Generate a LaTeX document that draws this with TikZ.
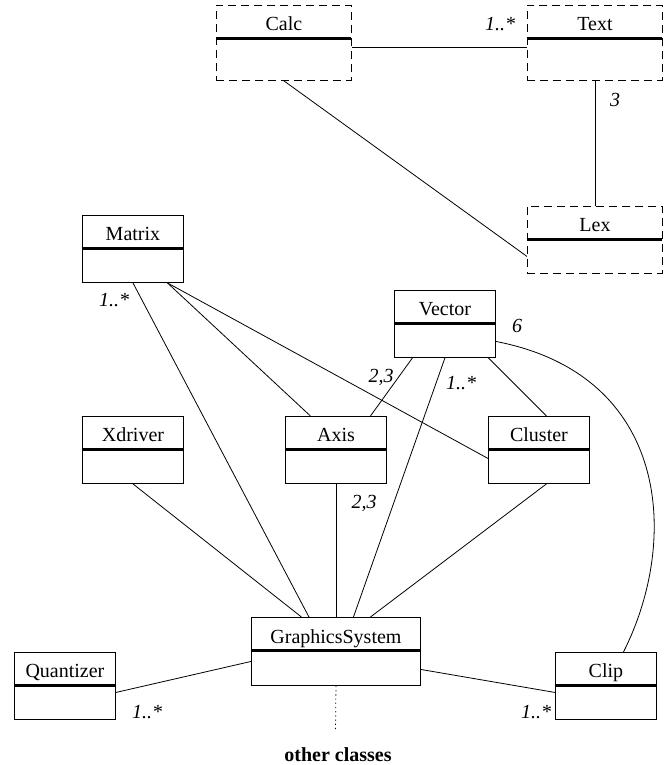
\documentclass[tikz,border=0pt]{standalone}
\usepackage{fontspec}
\setmainfont{Liberation Serif}

\begin{document}
\begin{tikzpicture}[x=1pt, y=-1pt, font=\fontsize{20}{24}\selectfont,
  cls/.style={draw, line width=0.9pt, inner sep=0pt, anchor=north west,
    minimum width=101pt, text height=25pt, text depth=42pt,
    path picture={\draw[solid, line width=2.4pt]
      ([yshift=-33pt]path picture bounding box.north west) --
      ([yshift=-33pt]path picture bounding box.north east);}},
  dcls/.style={cls, dash pattern=on 8pt off 5pt, minimum width=135pt},
  mult/.style={font=\fontsize{20}{24}\selectfont\itshape, inner sep=0pt},
  assoc/.style={line width=0.8pt},
]
  \useasboundingbox (0,0) rectangle (666,765);
  % classes
  \node[dcls, text depth=50pt] (calc) at (216,5) {Calc};
  \node[dcls, text depth=50pt] (txt) at (527,5) {Text};
  \node[dcls] (lex) at (527,206) {Lex};
  \node[cls] (matrix) at (82,215) {Matrix};
  \node[cls] (vector) at (394,290) {Vector};
  \node[cls] (xdriver) at (82,416) {Xdriver};
  \node[cls] (axis) at (285,416) {Axis};
  \node[cls] (cluster) at (488,416) {Cluster};
  \node[cls, minimum width=169pt, text height=26pt] (gs) at (251,617) {GraphicsSystem};
  \node[cls] (quantizer) at (14,652) {Quantizer};
  \node[cls] (clip) at (555,652) {Clip};
  % associations
  \draw[assoc] ([yshift=-4.5pt]calc.east) -- ([yshift=-4.5pt]txt.west);
  \draw[assoc] (calc.south) -- ([yshift=-16.5pt]lex.west);
  \draw[assoc] (txt.south) -- (lex.north);
  \draw[assoc] (matrix.south) -- ([xshift=-27pt]gs.north);
  \draw[assoc] ([xshift=34.5pt]matrix.south) -- ([xshift=-25.5pt]axis.north);
  \draw[assoc] ([xshift=34.5pt]matrix.south) -- ([yshift=-8.5pt]cluster.west);
  \draw[assoc] ([xshift=-32.5pt]vector.south) -- ([xshift=34.5pt]axis.north);
  \draw[assoc] (vector.south) -- ([xshift=17.5pt]gs.north);
  \draw[assoc] ([xshift=43.5pt]vector.south) -- ([xshift=7.5pt]cluster.north);
  \draw[assoc] ([yshift=-17.5pt]vector.east)
    .. controls (670,375) and (680,540) .. ([xshift=17.5pt]clip.north);
  \draw[assoc] (xdriver.south) -- ([xshift=-34.5pt]gs.north);
  \draw[assoc] (axis.south) -- (gs.north);
  \draw[assoc] ([xshift=7.5pt]cluster.south) -- ([xshift=34.5pt]gs.north);
  \draw[assoc] ([yshift=-6.5pt]quantizer.east) -- ([yshift=-10pt]gs.west);
  \draw[assoc] ([yshift=-18pt]gs.east) -- ([yshift=-6.5pt]clip.west);
  \coordinate (more) at (335.5,732);
  \draw[assoc, dash pattern=on 1.2pt off 3pt] (gs.south) -- (more);
  \node[font=\fontsize{20}{24}\selectfont\bfseries] (others) at (338,755) {other classes};
  % multiplicities
  \node[mult] (lbltxt) at (500,24) {1..*};
  \node[mult] (lbllex) at (615,100) {3};
  \node[mult] (lblmatrix) at (114,300) {1..*};
  \node[mult] (lblvector) at (517,326) {6};
  \node[mult] (lblva) at (381,377) {2,3};
  \node[mult] (lblvg) at (461,383) {1..*};
  \node[mult] (lblag) at (364,503) {2,3};
  \node[mult] (lblquant) at (147,712) {1..*};
  \node[mult] (lblclip) at (536,712) {1..*};
\end{tikzpicture}
\end{document}
